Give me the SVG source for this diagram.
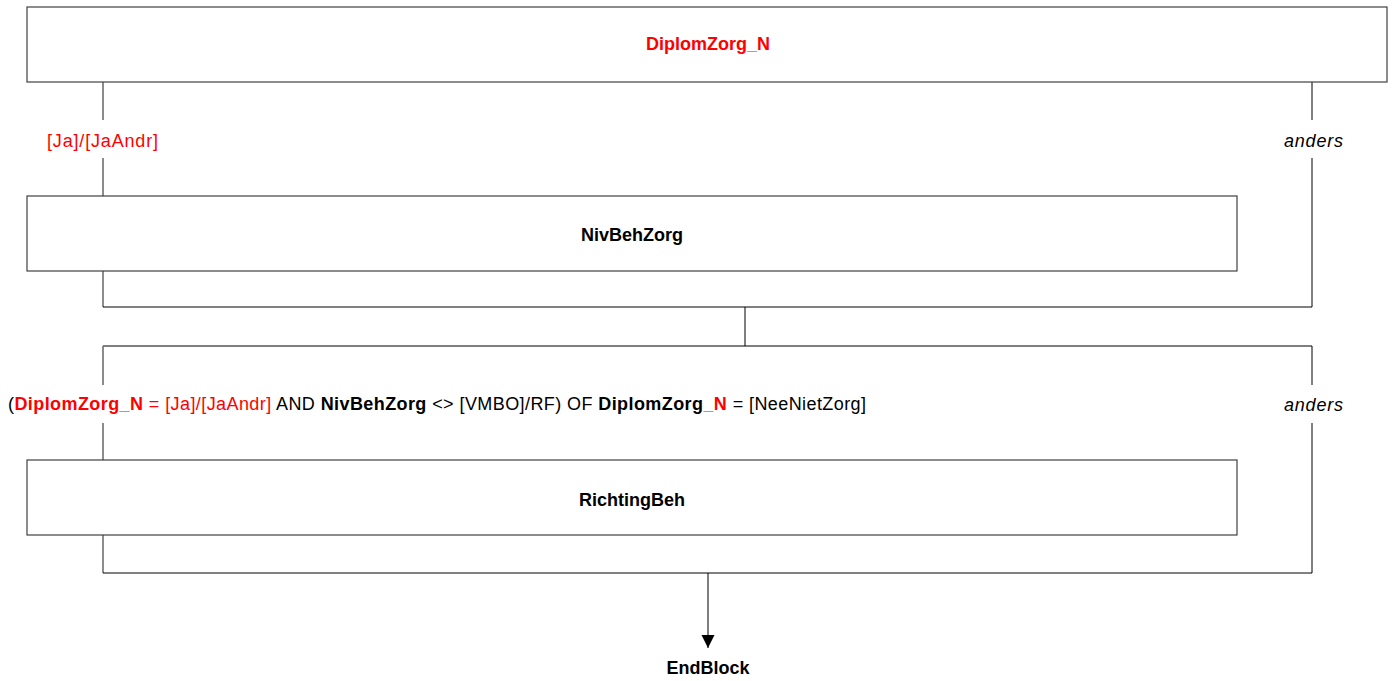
<svg xmlns="http://www.w3.org/2000/svg" width="1394" height="681" viewBox="0 0 1394 681">
<style>
.box{fill:#fff;stroke:#404040;stroke-width:1.2}
.ln{fill:none;stroke:#000;stroke-width:1}
.lg{fill:none;stroke:#707070;stroke-width:1.6}
text{font-family:"Liberation Sans",Arial,sans-serif;font-size:18px}
.b{font-weight:bold}
.r{fill:#ff0000}
.k{fill:#000}
.i{font-style:italic}
</style>
<defs>
<marker id="arr" markerWidth="14" markerHeight="14" refX="13" refY="6.5" orient="auto" markerUnits="userSpaceOnUse">
<path d="M0,0 L13,6.5 L0,13 Z" fill="#000"/>
</marker>
</defs>
<g id="connectors">
<path class="lg" d="M103,82 V120 M103,158 V196"/>
<path class="ln" d="M1312,82 V120 M1312,158 V307"/>
<path class="lg" d="M103,271 V307"/>
<path class="ln" d="M103,307 H1312 M745,307 V346 M103,346 H1312"/>
<path class="lg" d="M103,346 V385 M103,423 V460"/>
<path class="ln" d="M1312,346 V385 M1312,423 V573"/>
<path class="lg" d="M103,535 V573"/>
<path class="ln" d="M103,573 H1312"/>
<path class="ln" d="M708,573 V648" marker-end="url(#arr)"/>
<text x="47" y="147" textLength="111" class="r">[Ja]/[JaAndr]</text>
<text x="1284" y="147" textLength="59" class="i k">anders</text>
<text x="1284" y="411" textLength="59" class="i k">anders</text>
<text x="8" y="410" textLength="858" class="k">(<tspan class="b r">DiplomZorg_N</tspan><tspan class="r"> = [Ja]/[JaAndr]</tspan> AND <tspan class="b">NivBehZorg</tspan> &lt;&gt; [VMBO]/RF) OF <tspan class="b">DiplomZorg</tspan><tspan class="b r">_N</tspan> = [NeeNietZorg]</text>
</g>
<g id="DiplomZorg_N">
<rect class="box" x="27" y="7" width="1360" height="75"/>
<text x="708" y="50" text-anchor="middle" class="b r">DiplomZorg_N</text>
</g>
<g id="NivBehZorg">
<rect class="box" x="27" y="196" width="1210" height="75"/>
<text x="632" y="241" text-anchor="middle" class="b k">NivBehZorg</text>
</g>
<g id="RichtingBeh">
<rect class="box" x="27" y="460" width="1210" height="75"/>
<text x="632" y="506" text-anchor="middle" class="b k">RichtingBeh</text>
</g>
<g id="EndBlock">
<text x="708" y="674" text-anchor="middle" class="b k">EndBlock</text>
</g>
</svg>
